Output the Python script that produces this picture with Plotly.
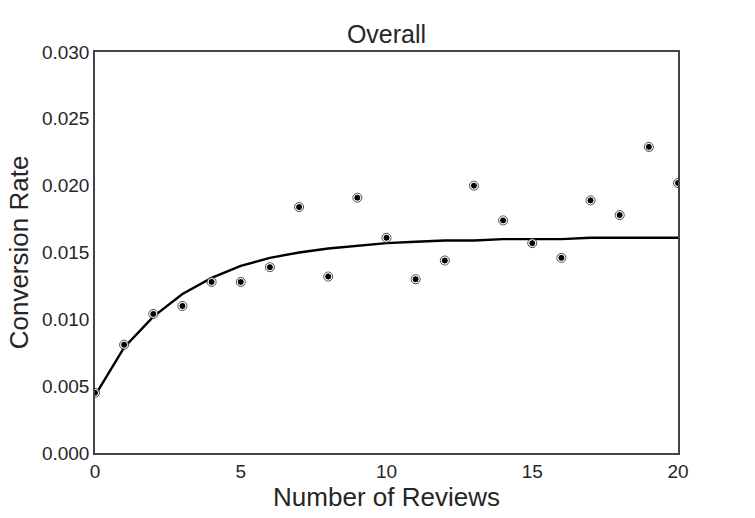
import plotly.graph_objects as go

reviews = list(range(21))
conversion = [0.0045, 0.0081, 0.0104, 0.0110, 0.0128, 0.0128, 0.0139, 0.0184, 0.0132, 0.0191,
              0.0161, 0.0130, 0.0144, 0.0200, 0.0174, 0.0157, 0.0146, 0.0189, 0.0178, 0.0229, 0.0202]
fit = [0.0043, 0.0079, 0.0102, 0.0119, 0.0131, 0.0140, 0.0146, 0.0150, 0.0153, 0.0155,
       0.0157, 0.0158, 0.0159, 0.0159, 0.0160, 0.0160, 0.0160, 0.0161, 0.0161, 0.0161, 0.0161]

txt = "#262626"
fig = go.Figure()
fig.add_trace(go.Scatter(x=reviews, y=fit, mode="lines",
                         line=dict(color="black", width=2.4), showlegend=False))
fig.add_trace(go.Scatter(x=reviews, y=conversion, mode="markers",
                         marker=dict(symbol="circle-open", size=9, color="#444",
                                     line=dict(width=1, color="#444")), showlegend=False))
fig.add_trace(go.Scatter(x=reviews, y=conversion, mode="markers",
                         marker=dict(size=7, color="black", line=dict(width=1, color="white")),
                         showlegend=False))

fig.update_layout(
    width=755, height=518,
    margin=dict(l=95, r=77, t=52, b=65),
    paper_bgcolor="white", plot_bgcolor="white",
    font=dict(family="Liberation Sans, Arial, sans-serif", color=txt, size=19),
    title=dict(text="Overall", x=0.5, xref="paper", y=1, yref="paper", yanchor="bottom",
               pad=dict(b=9), font=dict(size=25, color=txt)),
)
fig.update_xaxes(range=[0, 20], tickvals=[0, 5, 10, 15, 20], showgrid=False, zeroline=False,
                 showline=True, mirror=True, linecolor="#444", linewidth=1.5, ticks="",
                 title=dict(text="Number of Reviews", font=dict(size=26, color=txt), standoff=4),
                 tickfont=dict(size=19, color=txt))
fig.update_yaxes(range=[0, 0.030], tickvals=[0, 0.005, 0.010, 0.015, 0.020, 0.025, 0.030],
                 tickformat=".3f", showgrid=False, zeroline=False,
                 showline=True, mirror=True, linecolor="#444", linewidth=1.5, ticks="",
                 title=dict(text="Conversion Rate", font=dict(size=26, color=txt), standoff=6),
                 tickfont=dict(size=19, color=txt))

fig.write_html("out.html")
